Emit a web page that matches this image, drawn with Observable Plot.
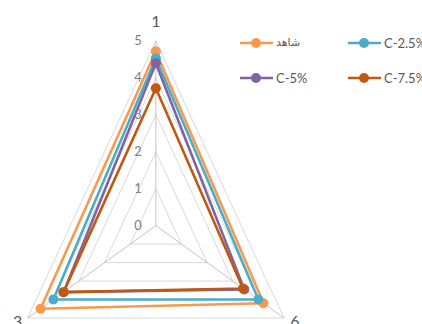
<!DOCTYPE html>
<html>
<head>
<meta charset="utf-8">
<script src="https://cdn.jsdelivr.net/npm/d3@7"></script>
<script src="https://cdn.jsdelivr.net/npm/@observablehq/plot@0.6"></script>
<style>
  html, body { margin: 0; padding: 0; background: #fff; }
  #wrap { position: relative; width: 422px; height: 324px; overflow: hidden; font-family: Lato, "DejaVu Sans", sans-serif; }
  #legend { position: absolute; left: 0; top: 0; width: 422px; height: 100px; pointer-events: none; }
  .item { position: absolute; display: flex; align-items: center; height: 14px; white-space: nowrap; }
  .item span { font-size: 13px; color: #595959; margin-left: 3px; line-height: 14px; }
  .item span.ar { font-size: 11px; font-family: "DejaVu Sans", sans-serif; }
</style>
</head>
<body>
<div id="wrap"></div>
<script>
// ---- data ----
const axisLabels = ["1", "6", "3"];            // clockwise from top
const levels = [0, 1, 2, 3, 4, 5];
const seriesNames = ["شاهد", "C-2.5%", "C-5%", "C-7.5%"];
const seriesColors = ["#F79A4E", "#4BACC6", "#8064A2", "#C0580F"];
const shahed = [4.72, 4.2, 4.5];
const c25 = [4.53, 4.0, 4.0];
const c5 = [4.4, 3.45, 3.6];
const c75 = [3.72, 3.4, 3.6];
const seriesValues = [shahed, c25, c5, c75];

// ---- geometry helpers (polar -> cartesian in data units) ----
const angle = i => (i * 2 * Math.PI) / axisLabels.length;
const px = (r, i) => r * Math.sin(angle(i));
const py = (r, i) => r * Math.cos(angle(i));

const ringPts = [];
levels.filter(l => l > 0).forEach(l => {
  [0, 1, 2, 0].forEach(i => ringPts.push({level: l, x: px(l, i), y: py(l, i)}));
});
const spokes = axisLabels.map((a, i) => ({x1: 0, y1: 0, x2: px(5, i), y2: py(5, i), label: a}));

const seriesPts = [];
const seriesDots = [];
seriesNames.forEach((s, k) => {
  [0, 1, 2, 0].forEach(i => seriesPts.push({series: s, x: px(seriesValues[k][i], i), y: py(seriesValues[k][i], i)}));
  [0, 1, 2].forEach(i => seriesDots.push({series: s, x: px(seriesValues[k][i], i), y: py(seriesValues[k][i], i)}));
});
const tickPts = levels.map(l => ({x: 0, y: l, t: String(l)}));
const labelPts = axisLabels.map((a, i) => ({x: px(5, i), y: py(5, i), t: a}));

const S60 = Math.sin(Math.PI / 3) * 5;
const chart = Plot.plot({
  width: 422,
  height: 324,
  margin: 0,
  style: {fontFamily: "Lato, 'DejaVu Sans', sans-serif", background: "transparent"},
  x: {domain: [-S60, S60], range: [27.2, 283.5], axis: null},
  y: {domain: [-2.5, 5], range: [317.5, 40.5], axis: null},
  color: {domain: seriesNames, range: seriesColors},
  marks: [
    Plot.line(ringPts, {x: "x", y: "y", z: "level", stroke: "#D9D9D9", strokeWidth: 1}),
    Plot.link(spokes, {x1: "x1", y1: "y1", x2: "x2", y2: "y2", stroke: "#C4C4C4", strokeWidth: 1}),
    Plot.line(seriesPts, {x: "x", y: "y", z: "series", stroke: "series", strokeWidth: 2.6, strokeLinejoin: "miter"}),
    Plot.dot(seriesDots, {x: "x", y: "y", fill: "series", r: 5}),
    Plot.text(tickPts, {x: "x", y: "y", text: "t", dx: -14, textAnchor: "end", fontSize: 13, fill: "#808080"}),
    Plot.text(labelPts.filter(d => d.t === "1"), {x: "x", y: "y", text: "t", dy: -19, fontSize: 16, fill: "#595959"}),
    Plot.text(labelPts.filter(d => d.t === "6"), {x: "x", y: "y", text: "t", dx: 11, dy: 4, fontSize: 16, fill: "#595959"}),
    Plot.text(labelPts.filter(d => d.t === "3"), {x: "x", y: "y", text: "t", dx: -10, dy: 4, fontSize: 16, fill: "#595959"})
  ]
});
const wrap = document.getElementById("wrap");
wrap.appendChild(chart);

// ---- legend ----
const legend = document.createElement("div");
legend.id = "legend";
const legPos = [[240, 36], [348, 36], [240, 71], [348, 71]];
seriesNames.forEach((s, k) => {
  const it = document.createElement("div");
  it.className = "item";
  it.style.left = legPos[k][0] + "px";
  it.style.top = legPos[k][1] + "px";
  const c = seriesColors[k];
  it.innerHTML = `<svg width="33" height="14"><line x1="0" y1="7" x2="33" y2="7" stroke="${c}" stroke-width="2.6"/><circle cx="16" cy="7" r="5" fill="${c}"/></svg>` +
    `<span class="${k === 0 ? "ar" : ""}">${s}</span>`;
  legend.appendChild(it);
});
wrap.appendChild(legend);
</script>
</body>
</html>
